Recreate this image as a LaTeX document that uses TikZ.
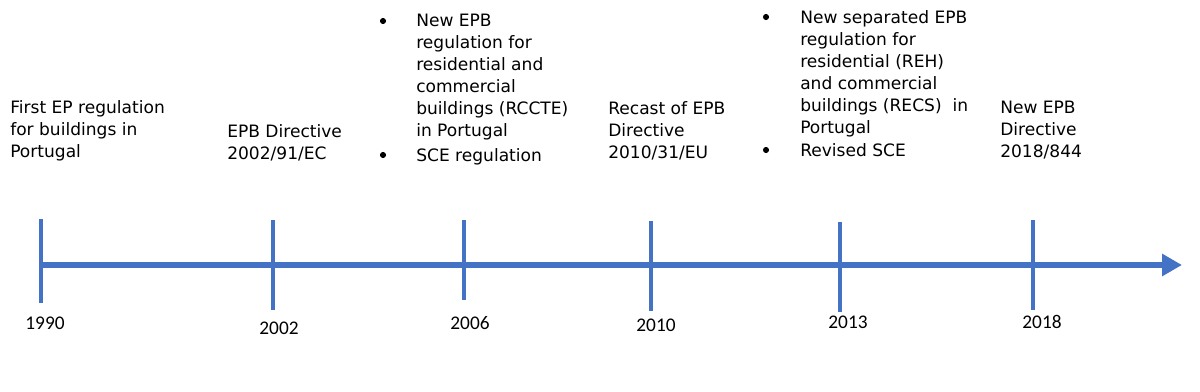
\documentclass[tikz,border=0pt]{standalone}
\usepackage{fontspec}
\setmainfont{DejaVu Sans}
\newfontfamily\yearfont{Carlito}
\usetikzlibrary{arrows.meta,positioning}

\definecolor{axisblue}{HTML}{4472C4}
\tikzset{
  event/.style={anchor=north west,inner sep=0pt,align=left,
    font=\fontsize{12.8}{16.5}\selectfont},
  bul/.style={circle,fill=black,inner sep=0pt,minimum size=4.6pt},
  yearlab/.style={inner sep=0pt,font=\yearfont\fontsize{14.5}{16}\selectfont},
  tick/.style={axisblue,line width=2.3pt},
}

\begin{document}
\begin{tikzpicture}[x=0.75pt,y=-0.75pt,>=Latex]
  \useasboundingbox (0,0) rectangle (1200,392);
  % time axis
  \coordinate (start) at (40,265);
  \coordinate (stop) at (1182,265);
  \draw[axisblue,line width=4.5pt,-{Triangle[length=15pt,width=16pt]}] (start) -- (stop);
  % ticks and years
  \foreach \yr/\x/\top/\bot in {1990/41/219/303,2002/273/220/310,
      2006/464/220/300,2010/651/221/311,2013/840/222/312,2018/1033/220/310}{
    \coordinate (t\yr) at (\x,\top);
    \coordinate (b\yr) at (\x,\bot);
    \draw[tick] (t\yr) -- (b\yr);
  }
  \foreach \yr/\x/\ly in {1990/45/323,2002/279/328,2006/470/323,2010/656/325,2013/848/322,2018/1042/322}{
    \node[yearlab] (y\yr) at (\x,\ly) {\yr};
  }
  % events
  \node[event] (e1990) at (10,100) {First EP regulation\\for buildings in\\Portugal};
  \node[event] (e2002) at (227,124) {EPB Directive\\2002/91/EC};
  \node[bul] (b2006a) at (383,21) {};
  \node[event] (e2006a) at (416,14) {New EPB\\regulation for\\residential and\\commercial\\buildings (RCCTE)\\in Portugal};
  \node[bul] (b2006b) at (383,155) {};
  \node[event] (e2006b) at (416,148) {SCE regulation};
  \node[event] (e2010) at (608,101) {Recast of EPB\\Directive\\2010/31/EU};
  \node[bul] (b2013a) at (766,17) {};
  \node[event] (e2013a) at (800,10) {New separated EPB\\regulation for\\residential (REH)\\and commercial\\buildings (RECS)\ \ in\\Portugal};
  \node[bul] (b2013b) at (766,150) {};
  \node[event] (e2013b) at (800,143) {Revised SCE};
  \node[event] (e2018) at (1000,101) {New EPB\\Directive\\2018/844};
\end{tikzpicture}
\end{document}
